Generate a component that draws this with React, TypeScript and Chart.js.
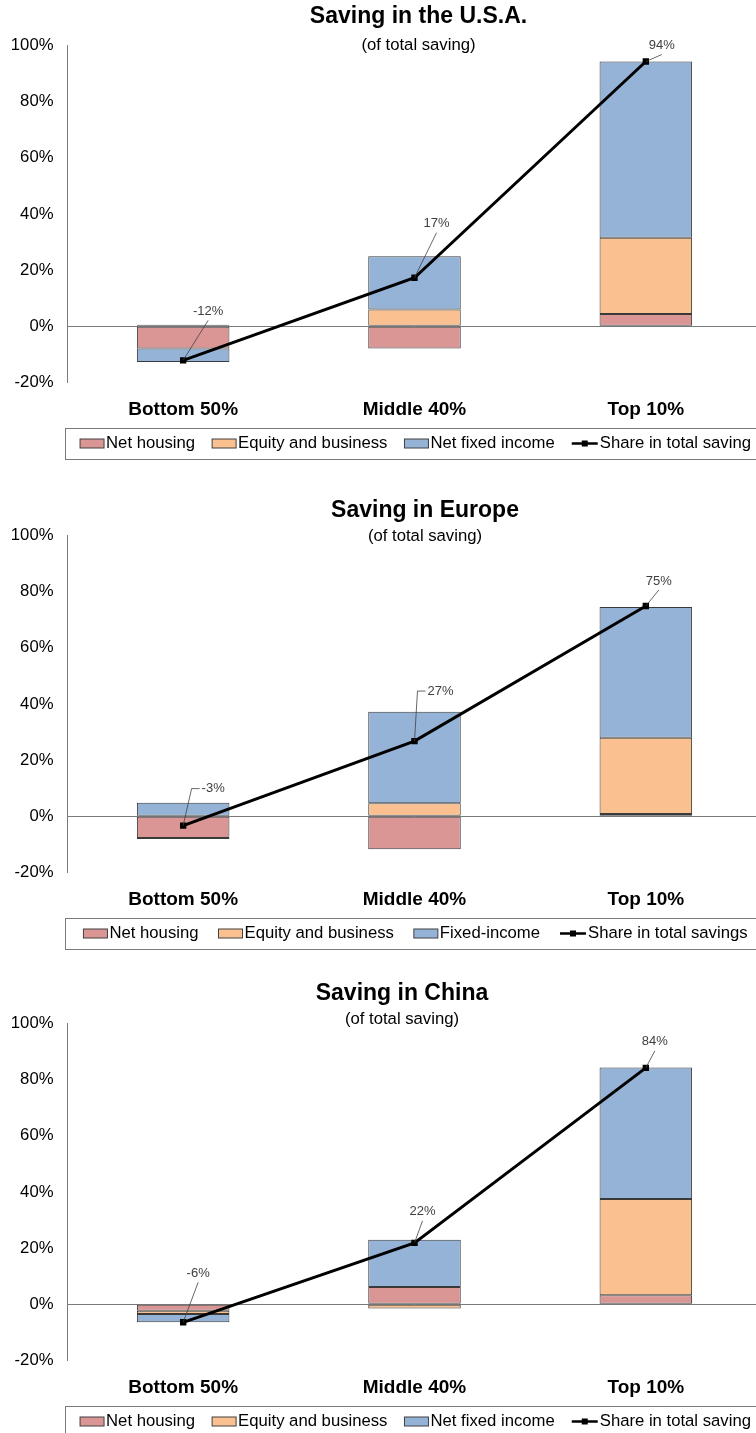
import React, { useEffect, useRef } from 'react';
import { Chart, registerables } from 'chart.js';

Chart.register(...registerables);

const FONT = '"Liberation Sans", Arial, Helvetica, sans-serif';

// ---------- data ----------
const categories = ['Bottom 50%', 'Middle 40%', 'Top 10%'];
const yTicks = [-20, 0, 20, 40, 60, 80, 100];

const usaHousing = [-7.9, -7.9, 4.4];
const usaEquity = [0.6, 6.0, 27.1];
const usaFixed = [-4.8, 19.0, 62.8];
const usaShare = [-12.1, 17.3, 94.3];
const usaLegend = ['Net housing', 'Equity and business', 'Net fixed income', 'Share in total saving'];

const europeHousing = [-7.7, -11.7, 0.8];
const europeEquity = [-0.4, 4.7, 27.2];
const europeFixed = [4.8, 32.5, 46.5];
const europeShare = [-3.3, 26.8, 74.9];
const europeLegend = ['Net housing', 'Equity and business', 'Fixed-income', 'Share in total savings'];

const chinaHousing = [-2.3, 6.2, 3.2];
const chinaEquity = [-1.1, -1.5, 34.3];
const chinaFixed = [-3.0, 16.8, 46.8];
const chinaShare = [-6.4, 21.9, 84.2];
const chinaLegend = ['Net housing', 'Equity and business', 'Net fixed income', 'Share in total saving'];

const COLORS = ['#D99694', '#FAC090', '#95B3D7'];

type Spec = {
  title: string;
  titleX: number;
  titleY: number;
  subY: number;
  height: number;
  housing: number[];
  equity: number[];
  fixed: number[];
  share: number[];
  legend: string[];
  labelOffsets: [number, number][];
  elbows: boolean[];
  itemGap: number;
};

const PLOT_TOP = 45.5;
const PLOT_H = 337;
const AXIS_W = 67.5;

const specs: Spec[] = [
  {
    title: 'Saving in the U.S.A.', titleX: 418.5, titleY: 16.8, subY: 45, height: 490,
    housing: usaHousing, equity: usaEquity, fixed: usaFixed, share: usaShare, legend: usaLegend,
    labelOffsets: [[25, -49], [22, -54], [16, -16]], elbows: [false, false, false], itemGap: 17,
  },
  {
    title: 'Saving in Europe', titleX: 425, titleY: 21, subY: 46.5, height: 488,
    housing: europeHousing, equity: europeEquity, fixed: europeFixed, share: europeShare, legend: europeLegend,
    labelOffsets: [[30, -37], [26, -50], [13, -25]], elbows: [true, true, false], itemGap: 20,
  },
  {
    title: 'Saving in China', titleX: 402, titleY: 15.8, subY: 41.5, height: 455,
    housing: chinaHousing, equity: chinaEquity, fixed: chinaFixed, share: chinaShare, legend: chinaLegend,
    labelOffsets: [[15, -49], [8, -31], [9, -26]], elbows: [false, false, false], itemGap: 17,
  },
];

function makeOverlay(spec: Spec) {
  return {
    id: 'overlay',
    afterDatasetsDraw(chart: any) {
      const ctx: CanvasRenderingContext2D = chart.ctx;
      const meta = chart.getDatasetMeta(3);
      ctx.save();
      ctx.font = `13px ${FONT}`;
      meta.data.forEach((pt: any, i: number) => {
        const [dx, dy] = spec.labelOffsets[i];
        const lx = pt.x + dx;
        const ly = pt.y + dy;
        const text = Math.round(spec.share[i]) + '%';
        const w = ctx.measureText(text).width;
        ctx.strokeStyle = '#404040';
        ctx.lineWidth = 0.8;
        ctx.beginPath();
        if (spec.elbows[i]) {
          const ex = lx - w / 2 - 2;
          ctx.moveTo(ex, ly);
          ctx.lineTo(ex - 8, ly);
          ctx.lineTo(pt.x, pt.y);
        } else {
          ctx.moveTo(lx, ly + 9);
          ctx.lineTo(pt.x, pt.y);
        }
        ctx.stroke();
        ctx.fillStyle = '#404040';
        ctx.textAlign = 'center';
        ctx.textBaseline = 'middle';
        ctx.fillText(text, lx, ly);
      });
      ctx.restore();
    },
    afterDraw(chart: any) {
      const ctx: CanvasRenderingContext2D = chart.ctx;
      const ca = chart.chartArea;
      ctx.save();
      // title + subtitle
      ctx.fillStyle = '#000';
      ctx.textAlign = 'center';
      ctx.textBaseline = 'middle';
      ctx.font = `bold 23px ${FONT}`;
      ctx.fillText(spec.title, spec.titleX, spec.titleY);
      ctx.font = `16.7px ${FONT}`;
      ctx.fillText('(of total saving)', spec.titleX, spec.subY);

      // legend
      const top = ca.bottom + 45;
      const h = 31;
      ctx.strokeStyle = '#7a7a7a';
      ctx.lineWidth = 1;
      ctx.strokeRect(Math.round(ca.left - 3) + 0.5, Math.round(top) + 0.5, chart.width, h);
      ctx.font = `16.7px ${FONT}`;
      const widths = spec.legend.map((l) => ctx.measureText(l).width);
      const sw = 24;
      const gap = 2;
      let total = 0;
      widths.forEach((w, i) => {
        total += sw + gap + w + (i < widths.length - 1 ? spec.itemGap : 0);
      });
      let x = (ca.left + ca.right) / 2 - total / 2;
      const cy = top + h / 2 + 0.5;
      spec.legend.forEach((label, i) => {
        if (i < 3) {
          ctx.fillStyle = COLORS[i];
          ctx.fillRect(x, cy - 4.5, sw, 9);
          ctx.strokeStyle = '#404040';
          ctx.lineWidth = 1;
          ctx.strokeRect(x, cy - 4.5, sw, 9);
        } else {
          ctx.strokeStyle = '#000';
          ctx.lineWidth = 2.5;
          ctx.beginPath();
          ctx.moveTo(x, cy);
          ctx.lineTo(x + sw + 2, cy);
          ctx.stroke();
          ctx.fillStyle = '#000';
          ctx.fillRect(x + sw / 2 + 1 - 3, cy - 3, 6, 6);
        }
        ctx.fillStyle = '#000';
        ctx.textAlign = 'left';
        ctx.textBaseline = 'middle';
        ctx.fillText(label, x + sw + gap + (i === 3 ? 2 : 0), cy);
        x += sw + gap + widths[i] + spec.itemGap;
      });
      ctx.restore();
    },
  };
}

function SavingChart({ spec }: { spec: Spec }) {
  const ref = useRef<HTMLCanvasElement | null>(null);
  useEffect(() => {
    if (!ref.current) return;
    const barBase = {
      type: 'bar' as const,
      borderColor: '#3a3a3a',
      borderWidth: 1,
      borderSkipped: false,
      barPercentage: 0.4,
      categoryPercentage: 1,
      order: 1,
      stack: 'parts',
    };
    const chart = new Chart(ref.current, {
      type: 'bar',
      data: {
        labels: categories,
        datasets: [
          { ...barBase, label: spec.legend[0], data: spec.housing, backgroundColor: COLORS[0] },
          { ...barBase, label: spec.legend[1], data: spec.equity, backgroundColor: COLORS[1] },
          { ...barBase, label: spec.legend[2], data: spec.fixed, backgroundColor: COLORS[2] },
          {
            type: 'line',
            label: spec.legend[3],
            data: spec.share,
            borderColor: '#000',
            borderWidth: 3,
            pointStyle: 'rect',
            pointRadius: 4.5,
            pointBackgroundColor: '#000',
            pointBorderColor: '#000',
            pointBorderWidth: 0,
            tension: 0,
            order: 0,
            stack: 'share',
          } as any,
        ],
      },
      options: {
        animation: false,
        responsive: true,
        maintainAspectRatio: false,
        layout: { padding: { top: PLOT_TOP, left: 0, right: 0, bottom: 0 } },
        plugins: {
          legend: { display: false },
          tooltip: { enabled: false },
          title: { display: false },
        },
        scales: {
          x: {
            stacked: true,
            grid: { display: false, drawTicks: false },
            border: { display: false },
            ticks: {
              font: { family: FONT, size: 19, weight: 'bold' },
              color: '#000',
              padding: 16,
              maxRotation: 0,
            },
            afterFit: (s: any) => {
              s.height = spec.height - PLOT_TOP - PLOT_H;
            },
          },
          y: {
            stacked: true,
            min: -20,
            max: 100,
            afterBuildTicks: (s: any) => {
              s.ticks = yTicks.map((v) => ({ value: v }));
            },
            ticks: {
              font: { family: FONT, size: 16.7 },
              color: '#000',
              padding: 14,
              callback: (v: any) => v + '%',
            },
            grid: {
              drawTicks: false,
              color: (c: any) => (c.tick && c.tick.value === 0 ? '#7a7a7a' : 'rgba(0,0,0,0)'),
              lineWidth: 1,
            },
            border: { display: true, color: '#7a7a7a', width: 1 },
            afterFit: (s: any) => {
              s.width = AXIS_W;
            },
          },
        },
      } as any,
      plugins: [makeOverlay(spec)],
    });
    return () => chart.destroy();
  }, [spec]);
  return (
    <div style={{ position: 'relative', width: 766, height: spec.height }}>
      <canvas ref={ref} />
    </div>
  );
}

export default function App() {
  return (
    <div
      style={{
        position: 'absolute',
        left: 0,
        top: 0,
        width: 756,
        overflow: 'hidden',
        background: '#fff',
      }}
    >
      {specs.map((s) => (
        <SavingChart key={s.title} spec={s} />
      ))}
    </div>
  );
}
